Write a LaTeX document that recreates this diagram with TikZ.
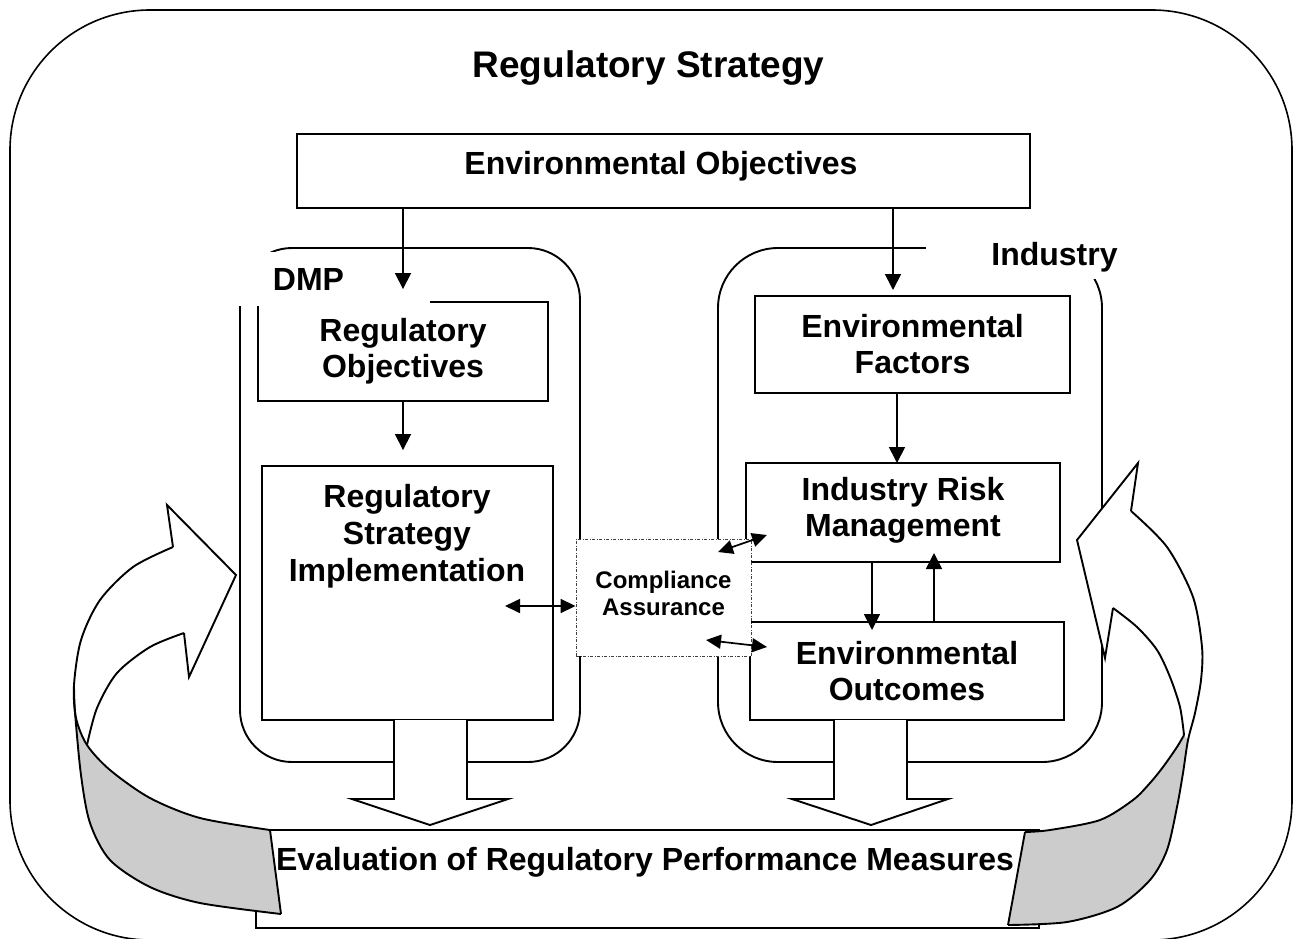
\documentclass[tikz,border=0pt]{standalone}
\usepackage{fontspec}
\setmainfont{Liberation Sans}
\usetikzlibrary{arrows.meta}
\definecolor{ribbongray}{RGB}{204,204,204}
\newcommand\dgbody{\bfseries\fontsize{32}{36}\selectfont}
\newcommand\dgrsi{\bfseries\fontsize{32}{37}\selectfont}
\newcommand\dgtitle{\bfseries\fontsize{37}{41}\selectfont}
\newcommand\dgsmall{\bfseries\fontsize{24}{27.7}\selectfont}
\begin{document}
\begin{tikzpicture}[x=1pt,y=-1pt,
  box/.style={draw, line width=1.9pt, inner sep=0pt, align=center, font=\dgbody},
  cont/.style={draw, line width=1.9pt, inner sep=0pt},
  txt/.style={inner sep=0pt, align=center, font=\dgbody},
  arr/.style={line width=1.7pt, -{Triangle[length=16pt,width=16pt]}},
  darr/.style={line width=1.7pt, {Triangle[length=15pt,width=14pt]}-{Triangle[length=15pt,width=14pt]}},
  blockarrow/.style={draw, fill=white, line width=1.9pt, line join=miter},
  rib/.style={line width=1.9pt, line join=miter},
  ribfill/.style={fill=ribbongray}]
\useasboundingbox (0,0) rectangle (1301,938);

% outer frame
\draw[line width=1.6pt, rounded corners=140pt] (10,10) rectangle (1292,940);
\node[txt, font=\dgtitle] (title) at (648.5,67.7) {Regulatory Strategy};

% environmental objectives
\node[box, minimum width=733, minimum height=74] (EO) at (663.5,171) {};
\node[txt] (EOt) at (661,165.8) {Environmental Objectives};

% containers
\node[cont, rounded corners=52pt, minimum width=340, minimum height=514] (DMP) at (410,505) {};
\node[cont, rounded corners=60pt, minimum width=384, minimum height=514] (IND) at (910,505) {};

% inner boxes
\node[box, minimum width=290, minimum height=99] (RO) at (403,351.5) {Regulatory\\Objectives};
\node[box, minimum width=291, minimum height=254] (RSI) at (407.5,593) {};
\node[txt, font=\dgrsi] (RSIt) at (407,536.7) {Regulatory\\Strategy\\Implementation};
\node[box, minimum width=315, minimum height=97] (EF) at (912.5,344.5) {Environmental\\Factors};
\node[box, minimum width=314, minimum height=99] (IRM) at (903,512.5) {Industry Risk\\Management\strut};
\node[box, minimum width=314, minimum height=98] (EOUT) at (907,671) {Environmental\\Outcomes};

% label patches
\fill[white] (232,252) rectangle (430,306);
\node[txt] (DMPt) at (308.5,279.6) {DMP};
\fill[white] (926,228) rectangle (1125,279);
\node[txt] (INDt) at (1054.5,257.3) {Industry};

% compliance assurance
\node[draw=black!75, fill=white, line width=0.9pt,
      dash pattern=on 3pt off 1.5pt on 1pt off 1.5pt,
      inner sep=0pt, align=center, font=\dgsmall,
      minimum width=175, minimum height=117] (CA) at (663.5,597.5) {Compliance\\Assurance\strut};

% block arrows
\filldraw[blockarrow] (394,720) -- (394,799) -- (352,799) -- (430,825) -- (508,799) -- (467,799) -- (467,720);
\filldraw[blockarrow] (834,720) -- (834,799) -- (792,799) -- (871,825) -- (948,799) -- (907,799) -- (907,720);

% evaluation box
\node[box, minimum width=783, minimum height=98] (EVAL) at (647.5,879) {};
\node[txt] (EVALt) at (645,862) {Evaluation of Regulatory Performance Measures};

% left curved arrow
\fill[ribfill] plot[smooth] coordinates {(74,685) (76,718) (87,745) (110,770) (150,798) (200,818) (270,830)}
  -- (281,914) -- plot[smooth] coordinates {(281,914) (200,903) (150,887) (110,860) (90,823) (81,775) (75,712) (74,685)} -- cycle;
\draw[rib] plot[smooth] coordinates {(173,547) (133,567) (100,600) (81,640) (74,685) (76,718) (87,745) (110,770) (150,798) (200,818) (270,830)};
\draw[rib] plot[smooth] coordinates {(184,633) (150,647) (117,673) (97,708) (87,745)};
\draw[rib] plot[smooth] coordinates {(74,685) (75,712) (81,775) (90,823) (110,860) (150,887) (200,903) (281,914)};
\draw[rib] (270,830) -- (281,914);
\draw[rib] (173,547) -- (167,505) -- (236,575) -- (189,677) -- (184,633);

% right curved arrow
\fill[white] plot[smooth] coordinates {(1131,511) (1167,547) (1193,597) (1202,647) (1201,680) (1195,713) (1188,740)}
  -- (1184,735) -- plot[smooth] coordinates {(1184,735) (1180,707) (1170,677) (1157,650) (1137,627) (1113,608)}
  -- (1105,658) -- (1077,540) -- (1138,463) -- cycle;
\fill[ribfill] plot[smooth] coordinates {(1184,735) (1177,747) (1163,767) (1150,783) (1133,800) (1100,820) (1050,830) (1025,832)}
  -- (1008,925) -- plot[smooth] coordinates {(1008,925) (1067,922) (1117,907) (1150,880) (1167,850) (1177,807) (1183,773) (1188,740)} -- cycle;
\draw[rib] plot[smooth] coordinates {(1131,511) (1167,547) (1193,597) (1202,647) (1201,680) (1195,713) (1188,740) (1183,773) (1177,807) (1167,850) (1150,880) (1117,907) (1067,922) (1008,925)};
\draw[rib] plot[smooth] coordinates {(1113,608) (1137,627) (1157,650) (1170,677) (1180,707) (1184,735)};
\draw[rib] plot[smooth] coordinates {(1184,735) (1177,747) (1163,767) (1150,783) (1133,800) (1100,820) (1050,830) (1025,832)};
\draw[rib] (1025,832) -- (1008,925);
\draw[rib] (1131,511) -- (1138,463) -- (1077,540) -- (1105,658) -- (1113,608);

% connectors
\coordinate (cEF) at (893,290);
\coordinate (cIRM) at (897,463);
\coordinate (cDown) at (872,630);
\coordinate (cUp) at (934,553);
\draw[arr] (EO.south -| RO.north) -- ([yshift=12pt]RO.north);
\draw[arr, shorten >=15pt] (RO.south) -- (RO.south |- RSI.north);
\draw[arr] (EO.south -| cEF) -- (cEF);
\draw[arr] (EF.south -| cIRM) -- (cIRM);
\draw[arr] (IRM.south -| cDown) -- (cDown);
\draw[arr] (EOUT.north -| cUp) -- (cUp);

\coordinate (d1) at (505,606);
\coordinate (d2a) at (718,552);
\coordinate (d2b) at (767,535);
\coordinate (d3a) at (706,640);
\coordinate (d3b) at (767,647);
\draw[darr] (d1) -- (CA.west |- d1);
\draw[darr] (d2a) -- (d2b);
\draw[darr] (d3a) -- (d3b);
\end{tikzpicture}
\end{document}
